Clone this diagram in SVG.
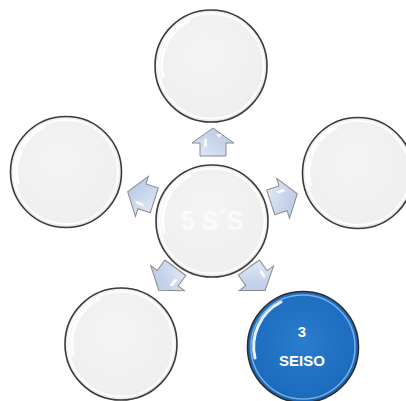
<svg xmlns="http://www.w3.org/2000/svg" width="406" height="401" viewBox="0 0 406 401">
  <defs>
    <radialGradient id="grayFill" cx="0.45" cy="0.4" r="0.65">
      <stop offset="0" stop-color="#f4f4f4"/>
      <stop offset="0.85" stop-color="#efefef"/>
      <stop offset="1" stop-color="#e2e2e2"/>
    </radialGradient>
    <radialGradient id="blueFill" cx="0.5" cy="0.45" r="0.6">
      <stop offset="0" stop-color="#2a7ccd"/>
      <stop offset="0.8" stop-color="#1d6cbf"/>
      <stop offset="1" stop-color="#155aa3"/>
    </radialGradient>
    <linearGradient id="arrowFill" x1="0" y1="0" x2="1" y2="1">
      <stop offset="0" stop-color="#e4ecf7"/>
      <stop offset="0.5" stop-color="#c8d6ec"/>
      <stop offset="1" stop-color="#b3c5e2"/>
    </linearGradient>
    <!-- arrow pointing right, centred on the origin -->
    <path id="arrow" d="M-14,-13 L-1,-13 L-1,-21 L14,0 L-1,21 L-1,13 L-14,13 Z"/>
  </defs>
  <style>
    .disc { fill: url(#grayFill); stroke: #3a3a3a; stroke-width: 1.6; }
    .disc-blue { fill: url(#blueFill); stroke: #2b2b2b; stroke-width: 1.6; }
    .shine { fill: none; stroke: #ffffff; stroke-width: 2; opacity: 0.9; }
    .shine-blue { fill: none; stroke: #8fc0ef; stroke-width: 1.5; opacity: 0.8; }
    .gloss { fill: none; stroke: #ffffff; stroke-width: 3; stroke-linecap: round; opacity: 0.9; }
    .arrow { fill: url(#arrowFill); stroke: #8a8a8a; stroke-width: 1; }
    .arrow-hl { fill: #ffffff; opacity: 0.85; }
    .title { font-family: "Liberation Sans", Arial, sans-serif; font-weight: bold; font-size: 28px; fill: #fbfbfb; text-anchor: middle; }
    .label { font-family: "Liberation Sans", Arial, sans-serif; font-weight: bold; font-size: 15px; fill: #ffffff; text-anchor: middle; }
  </style>

  <!-- connectors: arrows radiating from the centre disc -->
  <g id="connectors">
    <g transform="translate(213,142) rotate(-90)">
      <use href="#arrow" class="arrow"/>
      <path class="arrow-hl" d="M-6,-9 L2,-9 L4,-6 L-4,-6 Z"/>
      <path class="arrow-hl" d="M4,6 L8,3 L8,9 Z" opacity="0.6"/>
    </g>
    <g transform="translate(284,198) rotate(-18)">
      <use href="#arrow" class="arrow"/>
      <path class="arrow-hl" d="M-6,-9 L2,-9 L4,-6 L-4,-6 Z"/>
    </g>
    <g transform="translate(141,196) rotate(-162)">
      <use href="#arrow" class="arrow"/>
      <path class="arrow-hl" d="M-6,-9 L2,-9 L4,-6 L-4,-6 Z"/>
    </g>
    <g transform="translate(167,279) rotate(126.5)">
      <use href="#arrow" class="arrow"/>
      <path class="arrow-hl" d="M-6,-9 L2,-9 L4,-6 L-4,-6 Z"/>
    </g>
    <g transform="translate(257,279) rotate(54.4)">
      <use href="#arrow" class="arrow"/>
      <path class="arrow-hl" d="M-6,-9 L2,-9 L4,-6 L-4,-6 Z"/>
    </g>
  </g>

  <!-- centre disc -->
  <g id="center">
    <circle class="disc" cx="212" cy="221" r="56"/>
    <circle class="shine" cx="212" cy="221" r="52.5"/>
    <path class="gloss" d="M164,232 A50,50 0 0 1 190,176"/>
    <text class="title" x="212" y="230" textLength="62" lengthAdjust="spacingAndGlyphs">5 S´S</text>
  </g>

  <!-- outer discs -->
  <g id="node-top">
    <circle class="disc" cx="211" cy="66" r="56"/>
    <circle class="shine" cx="211" cy="66" r="52.5"/>
    <path class="gloss" d="M163,77 A50,50 0 0 1 189,21"/>
  </g>
  <g id="node-left">
    <circle class="disc" cx="66" cy="172" r="55.5"/>
    <circle class="shine" cx="66" cy="172" r="52"/>
    <path class="gloss" d="M18,183 A50,50 0 0 1 44,127"/>
  </g>
  <g id="node-right">
    <circle class="disc" cx="358" cy="173" r="55.5"/>
    <circle class="shine" cx="358" cy="173" r="52"/>
    <path class="gloss" d="M310,184 A50,50 0 0 1 336,128"/>
  </g>
  <g id="node-bottom-left">
    <circle class="disc" cx="121" cy="344" r="56"/>
    <circle class="shine" cx="121" cy="344" r="52.5"/>
    <path class="gloss" d="M73,355 A50,50 0 0 1 99,299"/>
  </g>
  <g id="node-seiso">
    <circle class="disc-blue" cx="303" cy="347" r="55.5"/>
    <circle class="shine-blue" cx="303" cy="347" r="52"/>
    <path class="gloss" d="M255,358 A50,50 0 0 1 281,302" opacity="0.75"/>
    <text class="label" x="302" y="337">3</text>
    <text class="label" x="302" y="366">SEISO</text>
  </g>
</svg>
